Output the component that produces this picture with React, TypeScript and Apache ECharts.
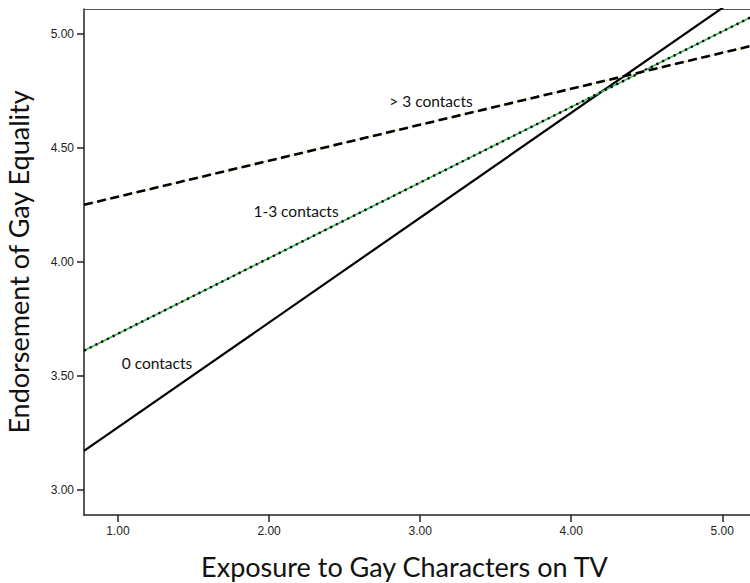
import React, { useEffect, useRef } from "react";
import * as echarts from "echarts";

// Axis extents
const xRange = [0.775, 5.21];
const yRange = [2.889, 5.109];
const xTicks = [1, 2, 3, 4, 5];
const yTicks = [3, 3.5, 4, 4.5, 5];

// Regression lines: values at the left and right edges of the x range
const zeroContacts = [3.17, 5.21];
const oneToThree = [3.61, 5.08];
const moreThanThree = [4.25, 4.95];

const seriesLabels = ["0 contacts", "1-3 contacts", "> 3 contacts"];

const toData = (vals: number[]) => [
  [xRange[0], vals[0]],
  [xRange[1], vals[1]],
];

export default function App() {
  const ref = useRef<HTMLDivElement>(null);
  useEffect(() => {
    if (!ref.current) return;
    const chart = echarts.init(ref.current, null, { renderer: "svg" });
    const tickFont = { fontFamily: "Liberation Sans", fontSize: 12, color: "#222" };
    const lblStyle = { fontFamily: "Lato", fontSize: 15.5, fill: "#111", align: "center", verticalAlign: "middle" };
    chart.setOption({
      animation: false,
      backgroundColor: "#fff",
      grid: {
        left: 84,
        top: 9,
        width: 670,
        height: 506,
        containLabel: false,
        outerBoundsMode: "none",
      },
      xAxis: [
        {
          type: "value",
          min: xRange[0],
          max: xRange[1],
          position: "bottom",
          name: "Exposure to Gay Characters on TV",
          nameLocation: "middle",
          nameGap: 38,
          nameTextStyle: { fontFamily: "Lato", fontSize: 27, color: "#111", padding: [0, 29, 0, 0] },
          axisLine: { show: true, lineStyle: { color: "#222", width: 1.5 } },
          axisTick: {
            show: true,
            length: 7,
            customValues: xTicks,
            lineStyle: { color: "#222", width: 1.5 },
          },
          axisLabel: {
            ...tickFont,
            margin: 10,
            customValues: xTicks,
            formatter: (v: number) => v.toFixed(2),
          },
          splitLine: { show: false },
        },
        {
          type: "value",
          min: xRange[0],
          max: xRange[1],
          position: "top",
          axisLine: { show: true, lineStyle: { color: "#555", width: 1 } },
          axisTick: { show: false },
          axisLabel: { show: false },
          splitLine: { show: false },
        },
      ],
      yAxis: {
        type: "value",
        min: yRange[0],
        max: yRange[1],
        name: "Endorsement of Gay Equality",
        nameLocation: "middle",
        nameGap: 52,
        nameTextStyle: { fontFamily: "Lato", fontSize: 27, color: "#111" },
        axisLine: { show: true, lineStyle: { color: "#222", width: 1.5 } },
        axisTick: {
          show: true,
          length: 7,
          customValues: yTicks,
          lineStyle: { color: "#222", width: 1.5 },
        },
        axisLabel: {
          ...tickFont,
          margin: 10,
          customValues: yTicks,
          formatter: (v: number) => v.toFixed(2),
        },
        splitLine: { show: false },
      },
      series: [
        {
          name: seriesLabels[0],
          type: "line",
          data: toData(zeroContacts),
          symbol: "none",
          clip: true,
          lineStyle: { color: "#000", width: 2.2, type: "solid" },
        },
        {
          name: seriesLabels[1] + " base",
          type: "line",
          data: toData(oneToThree),
          symbol: "none",
          clip: true,
          lineStyle: { color: "#3cb94a", width: 1.6, type: "solid" },
        },
        {
          name: seriesLabels[1],
          type: "line",
          data: toData(oneToThree),
          symbol: "none",
          clip: true,
          lineStyle: { color: "#000", width: 2.4, type: [2.2, 4.2] },
        },
        {
          name: seriesLabels[2] + " base",
          type: "line",
          data: toData(moreThanThree),
          symbol: "none",
          clip: true,
          lineStyle: { color: "#e8e0b0", width: 1, type: "solid" },
        },
        {
          name: seriesLabels[2],
          type: "line",
          data: toData(moreThanThree),
          symbol: "none",
          clip: true,
          lineStyle: { color: "#000", width: 2.6, type: [9, 4.5] },
        },
      ],
      graphic: [
        { type: "text", x: 431, y: 101, style: { text: seriesLabels[2], ...lblStyle } },
        { type: "text", x: 296, y: 211, style: { text: seriesLabels[1], ...lblStyle } },
        { type: "text", x: 157, y: 363, style: { text: seriesLabels[0], ...lblStyle } },
      ],
    });
    return () => chart.dispose();
  }, []);
  return (
    <div
      ref={ref}
      style={{ position: "absolute", left: 0, top: 0, width: 750, height: 583 }}
    />
  );
}
